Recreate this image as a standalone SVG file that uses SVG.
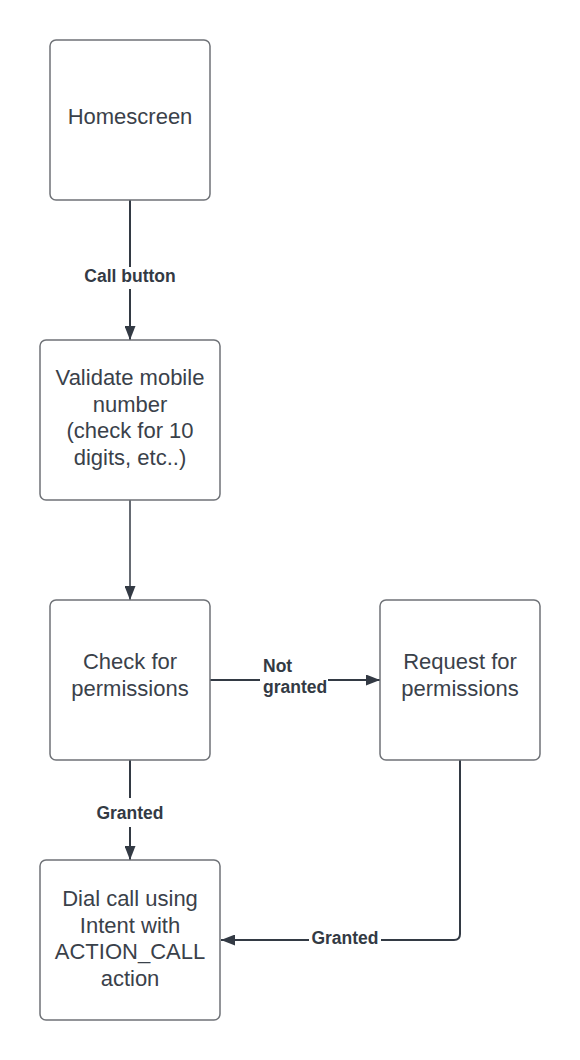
<svg xmlns="http://www.w3.org/2000/svg" width="580" height="1060" viewBox="0 0 580 1060">
<style>
.box{fill:#ffffff;stroke:#6f7277;stroke-width:1.5}
.t{font-family:"Liberation Sans",Arial,sans-serif;font-size:22px;fill:#3a414a;text-anchor:middle}
.lbl{font-family:"Liberation Sans",Arial,sans-serif;font-size:17.5px;font-weight:bold;fill:#333a44}
.c{fill:none;stroke:#333a44;stroke-width:2}
</style>
<defs>
<marker id="ah" markerWidth="14" markerHeight="11" refX="14" refY="5.5" orient="auto" markerUnits="userSpaceOnUse">
<path d="M0,0 L14,5.5 L0,11 Z" fill="#333a44"/>
</marker>
</defs>
<rect width="580" height="1060" fill="#ffffff"/>
<g id="connectors">
<path class="c" d="M130,200 V267 M130,289 V340" marker-end="url(#ah)"/>
<path class="c" d="M130,500 V600" style="stroke-width:1.5" marker-end="url(#ah)"/>
<path class="c" d="M210,680 H260 M328,680 H380" marker-end="url(#ah)"/>
<path class="c" d="M130,760 V798 M130,827 V860" marker-end="url(#ah)"/>
<path class="c" d="M460,760 V934 Q460,940 454,940 H381 M309,940 H221" marker-end="url(#ah)"/>
<text class="lbl" x="130" y="282" text-anchor="middle">Call button</text>
<text class="lbl" x="263" y="672">Not</text>
<text class="lbl" x="263" y="693">granted</text>
<text class="lbl" x="130" y="819" text-anchor="middle">Granted</text>
<text class="lbl" x="345" y="944" text-anchor="middle">Granted</text>
</g>
<g id="homescreen">
<rect class="box" x="50" y="40" width="160" height="160" rx="6"/>
<text class="t" x="130" y="124">Homescreen</text>
</g>
<g id="validate">
<rect class="box" x="40" y="340" width="180" height="160" rx="6"/>
<text class="t" x="130" y="385">Validate mobile</text>
<text class="t" x="130" y="411.5">number</text>
<text class="t" x="130" y="438">(check for 10</text>
<text class="t" x="130" y="464.5">digits, etc..)</text>
</g>
<g id="check">
<rect class="box" x="50" y="600" width="160" height="160" rx="6"/>
<text class="t" x="130" y="669">Check for</text>
<text class="t" x="130" y="695.5">permissions</text>
</g>
<g id="request">
<rect class="box" x="380" y="600" width="160" height="160" rx="6"/>
<text class="t" x="460" y="669">Request for</text>
<text class="t" x="460" y="695.5">permissions</text>
</g>
<g id="dial">
<rect class="box" x="40" y="860" width="180" height="160" rx="6"/>
<text class="t" x="130" y="906">Dial call using</text>
<text class="t" x="130" y="932.5">Intent with</text>
<text class="t" x="130" y="959">ACTION_CALL</text>
<text class="t" x="130" y="985.5">action</text>
</g>
</svg>
